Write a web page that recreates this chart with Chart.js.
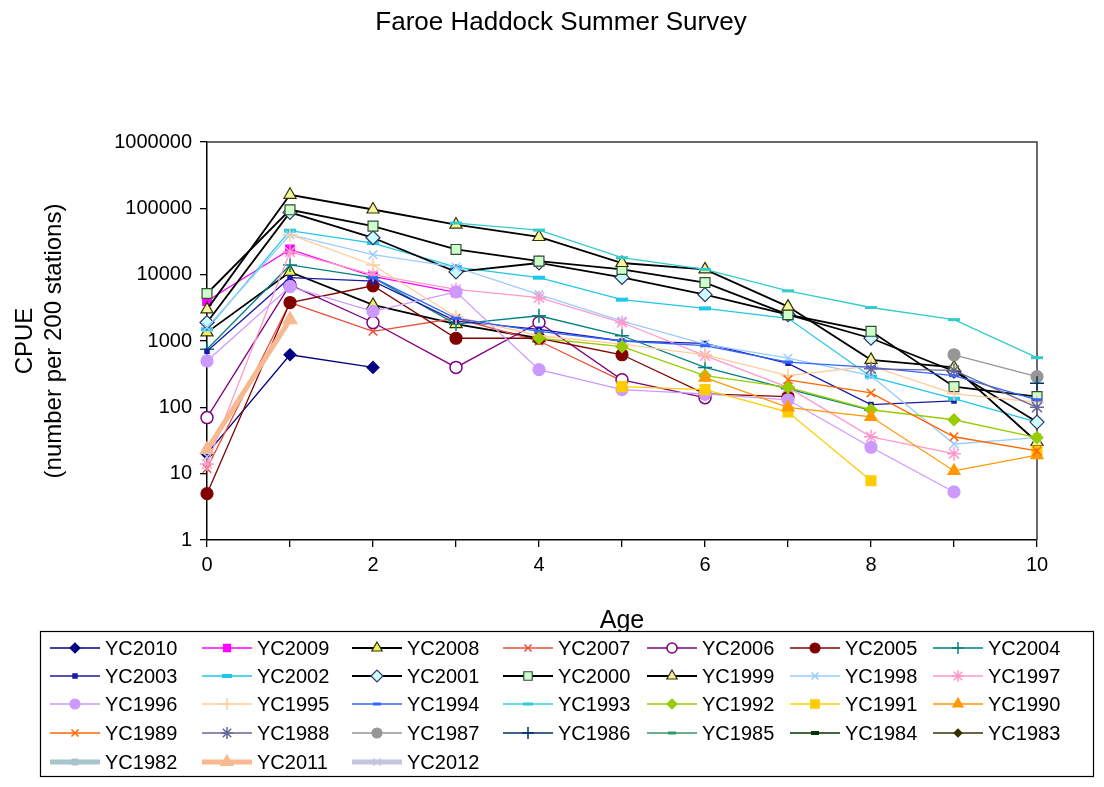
<!DOCTYPE html>
<html>
<head>
<meta charset="utf-8">
<script src="https://cdn.jsdelivr.net/npm/chart.js"></script>
<style>
  html, body { margin: 0; padding: 0; background: #ffffff; }
  #wrap { width: 1104px; height: 787px; }
</style>
</head>
<body>
<div id="wrap"><canvas id="c" width="1104" height="787"></canvas></div>
<script>
// Ages on the x axis and the labelled decades on the log y axis
const ages = [0, 1, 2, 3, 4, 5, 6, 7, 8, 9, 10];
const yTicks = [1, 10, 100, 1000, 10000, 100000, 1000000];
const chartTitle = 'Faroe Haddock Summer Survey';
const _ = null;

// CPUE (number per 200 stations) by age, one list per year class
const yc2010 = [20, 620, 400, _, _, _, _, _, _, _, _];
const yc2009 = [4000, 24000, 9400, 5400, _, _, _, _, _, _, _];
const yc2008 = [1350, 11000, 3500, 1800, 1100, _, _, _, _, _, _];
const yc2007 = [12, 3800, 1400, 2200, 1000, 250, _, _, _, _, _];
const yc2006 = [70, 7000, 1900, 400, 1900, 260, 140, _, _, _, _];
const yc2005 = [5, 3800, 6800, 1100, 1100, 620, 160, 145, _, _, _];
const yc2004 = [750, 14000, 9000, 1800, 2400, 1200, 400, 190, 90, _, _];
const yc2003 = [700, 9000, 8000, 2000, 1500, 1000, 920, 460, 110, 125, _];
const yc2002 = [1500, 46000, 30000, 13000, 9000, 4200, 3100, 2200, 290, 135, 60];
const yc2001 = [1900, 87000, 36000, 11000, 15000, 9100, 5000, 2500, 1100, 350, 60];
const yc2000 = [5200, 95000, 54000, 24000, 16000, 12000, 7600, 2500, 1400, 205, 145];
const yc1999 = [3000, 160000, 96000, 57000, 37000, 15000, 12000, 3300, 520, 400, 30];
const yc1998 = [1600, 40000, 20000, 13000, 5000, 2000, 900, 550, 300, 28, 35];
const yc1997 = [14, 22000, 10000, 6000, 4500, 1900, 600, 200, 36, 20, _];
const yc1996 = [500, 6600, 2800, 5500, 370, 185, 160, 130, 25, 5.3, _];
const yc1995 = [_, 40000, 14000, 2300, 1200, 900, 620, 300, 420, 160, 120];
const yc1994 = [_, _, 9000, 2200, 1400, 1000, 850, 480, 400, 300, 130];
const yc1993 = [_, _, _, 60000, 47000, 18000, 12000, 5700, 3200, 2100, 560];
const yc1992 = [_, _, _, _, 1100, 820, 300, 200, 92, 65, 35];
const yc1991 = [_, _, _, _, _, 205, 185, 85, 7.8, _, 22];
const yc1990 = [_, _, _, _, _, _, 280, 100, 72, 11, 19];
const yc1989 = [_, _, _, _, _, _, _, 260, 165, 36, 22];
const yc1988 = [_, _, _, _, _, _, _, _, 380, 360, 100];
const yc1987 = [_, _, _, _, _, _, _, _, _, 620, 290];
const yc1986 = [_, _, _, _, _, _, _, _, _, _, 230];
const yc1985 = [_, _, _, _, _, _, _, _, _, _, _];
const yc1984 = [_, _, _, _, _, _, _, _, _, _, _];
const yc1983 = [_, _, _, _, _, _, _, _, _, _, _];
const yc1982 = [_, _, _, _, _, _, _, _, _, _, _];
const yc2011 = [23, 2100, _, _, _, _, _, _, _, _, _];
const yc2012 = [18, _, _, _, _, _, _, _, _, _, _];

const FONT = "'Liberation Sans', Arial, sans-serif";

// Series look: line colour, marker style and fill, in legend order
const series = [
  { label: 'YC2010', values: yc2010, line: '#000080', style: 'rectRot', fill: '#000080', edge: '#000080', r: 6 },
  { label: 'YC2009', values: yc2009, line: '#FF00FF', style: 'rect', fill: '#FF00FF', edge: '#FF00FF', r: 6 },
  { label: 'YC2008', values: yc2008, line: '#000000', style: 'triangle', fill: '#F0F060', edge: '#333300', r: 7 },
  { label: 'YC2007', values: yc2007, line: '#E8503C', style: 'crossRot', fill: '#E8503C', edge: '#E8503C', r: 6 },
  { label: 'YC2006', values: yc2006, line: '#800080', style: 'circle', fill: '#FFFFFF', edge: '#800080', r: 6 },
  { label: 'YC2005', values: yc2005, line: '#800000', style: 'circle', fill: '#800000', edge: '#800000', r: 6 },
  { label: 'YC2004', values: yc2004, line: '#008080', style: 'cross', fill: '#008080', edge: '#008080', r: 7 },
  { label: 'YC2003', values: yc2003, line: '#1A1AA6', style: 'rect', fill: '#1A1AA6', edge: '#1A1AA6', r: 3 },
  { label: 'YC2002', values: yc2002, line: '#1EC8E6', style: 'line', fill: '#1EC8E6', edge: '#1EC8E6', r: 6, mw: 4 },
  { label: 'YC2001', values: yc2001, line: '#000000', style: 'rectRot', fill: '#CCFFFF', edge: '#333366', r: 7 },
  { label: 'YC2000', values: yc2000, line: '#000000', style: 'rect', fill: '#CCFFCC', edge: '#334D33', r: 7 },
  { label: 'YC1999', values: yc1999, line: '#000000', style: 'triangle', fill: '#F5F5A0', edge: '#333300', r: 7 },
  { label: 'YC1998', values: yc1998, line: '#99CCFF', style: 'crossRot', fill: '#99CCFF', edge: '#99CCFF', r: 6 },
  { label: 'YC1997', values: yc1997, line: '#FF99CC', style: 'star', fill: '#FF99CC', edge: '#FF99CC', r: 7 },
  { label: 'YC1996', values: yc1996, line: '#CC99FF', style: 'circle', fill: '#CC99FF', edge: '#CC99FF', r: 6 },
  { label: 'YC1995', values: yc1995, line: '#FFCC99', style: 'cross', fill: '#FFCC99', edge: '#FFCC99', r: 7 },
  { label: 'YC1994', values: yc1994, line: '#3366FF', style: 'line', fill: '#3366FF', edge: '#3366FF', r: 5, mw: 3 },
  { label: 'YC1993', values: yc1993, line: '#33CCCC', style: 'line', fill: '#33CCCC', edge: '#33CCCC', r: 6, mw: 3 },
  { label: 'YC1992', values: yc1992, line: '#99CC00', style: 'rectRot', fill: '#99CC00', edge: '#99CC00', r: 6 },
  { label: 'YC1991', values: yc1991, line: '#FFCC00', style: 'rect', fill: '#FFCC00', edge: '#FFCC00', r: 7 },
  { label: 'YC1990', values: yc1990, line: '#FF9900', style: 'triangle', fill: '#FF9900', edge: '#FF9900', r: 7 },
  { label: 'YC1989', values: yc1989, line: '#FF6600', style: 'crossRot', fill: '#FF6600', edge: '#FF6600', r: 6 },
  { label: 'YC1988', values: yc1988, line: '#666699', style: 'star', fill: '#666699', edge: '#666699', r: 7 },
  { label: 'YC1987', values: yc1987, line: '#969696', style: 'circle', fill: '#969696', edge: '#969696', r: 6 },
  { label: 'YC1986', values: yc1986, line: '#003366', style: 'cross', fill: '#003366', edge: '#003366', r: 7 },
  { label: 'YC1985', values: yc1985, line: '#339966', style: 'line', fill: '#339966', edge: '#339966', r: 5, mw: 3 },
  { label: 'YC1984', values: yc1984, line: '#003300', style: 'line', fill: '#003300', edge: '#003300', r: 5, mw: 4 },
  { label: 'YC1983', values: yc1983, line: '#333300', style: 'rectRot', fill: '#333300', edge: '#333300', r: 5 },
  { label: 'YC1982', values: yc1982, line: '#A7C4CC', style: 'rect', fill: '#A7C4CC', edge: '#A7C4CC', r: 5, lw: 5 },
  { label: 'YC2011', values: yc2011, line: '#F6B990', style: 'triangle', fill: '#F6B990', edge: '#F6B990', r: 8, lw: 5 },
  { label: 'YC2012', values: yc2012, line: '#C3C6DC', style: 'crossRot', fill: '#C3C6DC', edge: '#C3C6DC', r: 6, lw: 5 }
];

const blackLines = ['YC2008', 'YC2001', 'YC2000', 'YC1999'];

const datasets = series.map((s, i) => {
  const lw = s.lw || (blackLines.includes(s.label) ? 1.8 : 1.3);
  const markerW = s.mw || (['cross', 'crossRot', 'star'].includes(s.style) ? 1.5 : (s.style === 'circle' && s.fill === '#FFFFFF' ? 1.5 : 1.2));
  return {
    label: s.label,
    data: ages.map((a, k) => ({ x: a, y: s.values[k] })),
    borderColor: s.line,
    borderWidth: lw,
    backgroundColor: s.fill,
    pointStyle: s.style,
    pointRadius: s.r,
    pointBackgroundColor: s.fill,
    pointBorderColor: s.edge,
    pointBorderWidth: markerW,
    pointHoverRadius: s.r,
    tension: 0,
    spanGaps: false,
    clip: false,
    order: -i,
    _markerW: markerW
  };
});

// Chart heading, centred on the page
const heading = {
  id: 'heading',
  afterDraw(chart) {
    const ctx = chart.ctx;
    ctx.save();
    ctx.font = '26px ' + FONT;
    ctx.fillStyle = '#000000';
    ctx.textAlign = 'center';
    ctx.textBaseline = 'middle';
    ctx.fillText(chartTitle, 561, 23);
    ctx.restore();
  }
};

// Frame of the plot area (top and right edges)
const plotFrame = {
  id: 'plotFrame',
  beforeDatasetsDraw(chart) {
    const { ctx, chartArea: a } = chart;
    ctx.save();
    ctx.strokeStyle = '#3a3a3a';
    ctx.lineWidth = 1.5;
    ctx.beginPath();
    ctx.moveTo(a.left, a.top);
    ctx.lineTo(a.right, a.top);
    ctx.lineTo(a.right, a.bottom);
    ctx.stroke();
    ctx.restore();
  }
};

// Boxed legend with seven columns: line sample, marker, label
const boxLegend = {
  id: 'boxLegend',
  afterDraw(chart) {
    const ctx = chart.ctx;
    const box = { x: 40, y: 631, w: 1053, h: 145 };
    const textX = [105, 257, 407, 558, 702, 845, 988];
    const rowY = [648, 676, 704, 733, 762];
    ctx.save();
    ctx.fillStyle = '#ffffff';
    ctx.fillRect(box.x, box.y, box.w, box.h);
    ctx.strokeStyle = '#000000';
    ctx.lineWidth = 1.2;
    ctx.strokeRect(box.x + 0.5, box.y + 0.5, box.w, box.h);
    ctx.font = '20px ' + FONT;
    ctx.textBaseline = 'middle';
    ctx.textAlign = 'left';
    chart.data.datasets.forEach((ds, i) => {
      const col = i % 7, row = Math.floor(i / 7);
      const tx = textX[col], y = rowY[row];
      const x0 = tx - 55, x1 = tx - 5, xm = (x0 + x1) / 2;
      ctx.strokeStyle = ds.borderColor;
      ctx.lineWidth = ds.borderWidth;
      ctx.beginPath();
      ctx.moveTo(x0, y);
      ctx.lineTo(x1, y);
      ctx.stroke();
      ctx.fillStyle = ds.pointBackgroundColor;
      ctx.strokeStyle = ds.pointBorderColor;
      ctx.lineWidth = ds._markerW;
      Chart.helpers.drawPoint(ctx, {
        pointStyle: ds.pointStyle,
        radius: Math.max(3, ds.pointRadius - 1),
        rotation: 0,
        borderWidth: ds._markerW
      }, xm, y);
      ctx.fillStyle = '#000000';
      ctx.fillText(ds.label, tx, y + 1);
    });
    ctx.restore();
  }
};

new Chart(document.getElementById('c'), {
  type: 'line',
  data: { datasets },
  plugins: [plotFrame, boxLegend, heading],
  options: {
    responsive: false,
    animation: false,
    events: [],
    layout: { padding: { left: 0, right: 67, top: 142, bottom: 147 } },
    plugins: {
      legend: { display: false },
      tooltip: { enabled: false },
      title: { display: false }
    },
    scales: {
      x: {
        type: 'linear',
        min: 0,
        max: 10,
        afterBuildTicks: (s) => { s.ticks = ages.map(v => ({ value: v })); },
        afterFit: (s) => { s.height = 100; },
        ticks: {
          autoSkip: false,
          maxRotation: 0,
          padding: 6,
          color: '#000000',
          font: { family: FONT, size: 20 },
          callback: (v) => (v % 2 === 0 ? String(v) : '')
        },
        grid: { drawOnChartArea: false, drawTicks: true, tickLength: 7, color: '#000000', lineWidth: 1.3 },
        border: { color: '#000000', width: 1.5 },
        title: {
          display: true,
          text: 'Age',
          color: '#000000',
          font: { family: FONT, size: 25 },
          padding: { top: 0, bottom: 4 }
        }
      },
      y: {
        type: 'logarithmic',
        min: 1,
        max: 1000000,
        afterBuildTicks: (s) => { s.ticks = yTicks.map(v => ({ value: v })); },
        afterFit: (s) => { s.width = 207; },
        ticks: {
          autoSkip: false,
          padding: 8,
          color: '#000000',
          font: { family: FONT, size: 20 },
          callback: (v) => String(v)
        },
        grid: { drawOnChartArea: false, drawTicks: true, tickLength: 7, color: '#000000', lineWidth: 1.3 },
        border: { color: '#000000', width: 1.5 },
        title: {
          display: true,
          text: ['CPUE', '(number per 200 stations)'],
          color: '#000000',
          font: { family: FONT, size: 24 },
          padding: { top: 11, bottom: 0 }
        }
      }
    }
  }
});
</script>
</body>
</html>
